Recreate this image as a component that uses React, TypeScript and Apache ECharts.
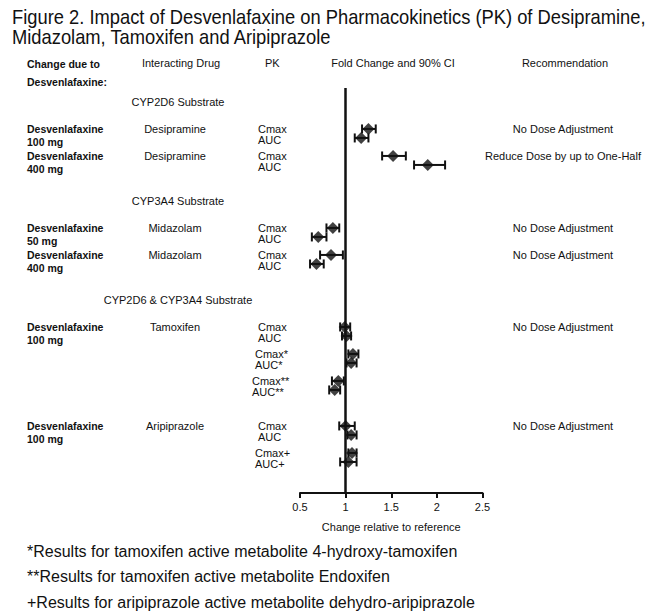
import React, { useEffect, useRef } from "react";
import * as echarts from "echarts";

// ---- data ----
const rowIndex = [0, 1, 3, 4, 11, 12, 14, 15, 22, 23, 25, 26, 28, 29, 33, 34, 36, 37];
const pkLabels = ["Cmax", "AUC", "Cmax", "AUC", "Cmax", "AUC", "Cmax", "AUC", "Cmax", "AUC", "Cmax*", "AUC*", "Cmax**", "AUC**", "Cmax", "AUC", "Cmax+", "AUC+"];
const foldChange = [1.25, 1.17, 1.52, 1.9, 0.86, 0.7, 0.84, 0.68, 0.99, 1.01, 1.08, 1.06, 0.92, 0.88, 1.0, 1.06, 1.07, 1.03];
const ciLow = [1.18, 1.1, 1.4, 1.75, 0.79, 0.63, 0.72, 0.61, 0.94, 0.96, 1.03, 1.01, 0.85, 0.82, 0.93, 1.02, 1.03, 0.94];
const ciHigh = [1.33, 1.25, 1.66, 2.09, 0.93, 0.79, 0.97, 0.76, 1.05, 1.06, 1.14, 1.12, 0.98, 0.94, 1.1, 1.12, 1.12, 1.12];

const studyRows = [0, 3, 11, 14, 22, 33];
const studyDose = ["100 mg", "400 mg", "50 mg", "400 mg", "100 mg", "100 mg"];
const studyDrug = ["Desipramine", "Desipramine", "Midazolam", "Midazolam", "Tamoxifen", "Aripiprazole"];
const recommendation = ["No Dose Adjustment", "Reduce Dose by up to One-Half", "No Dose Adjustment", "No Dose Adjustment", "No Dose Adjustment", "No Dose Adjustment"];

const substrateRows = [-3, 8, 19];
const substrateLabels = ["CYP2D6 Substrate", "CYP3A4 Substrate", "CYP2D6 & CYP3A4 Substrate"];

const xTicks = { min: 0.5, max: 2.5, interval: 0.5 };
const footnotes = [
  "*Results for tamoxifen active metabolite 4-hydroxy-tamoxifen",
  "**Results for tamoxifen active metabolite Endoxifen",
  "+Results for aripiprazole active metabolite dehydro-aripiprazole",
];
const titleLines = [
  "Figure 2. Impact of Desvenlafaxine on Pharmacokinetics (PK) of Desipramine,",
  "Midazolam, Tamoxifen and Aripiprazole",
];

const FONT = '"Liberation Sans", Arial, sans-serif';
const INK = "#111";

export default function App() {
  const ref = useRef<HTMLDivElement>(null);
  useEffect(() => {
    document.body.style.margin = "0";
    const chart = echarts.init(ref.current!, null, { renderer: "svg" });
    const option: any = {
      animation: false,
      backgroundColor: "#fff",
      grid: { left: 300, right: 178.5, top: 88, bottom: 122 },
      xAxis: {
        type: "value",
        min: xTicks.min,
        max: xTicks.max,
        interval: xTicks.interval,
        name: "Change relative to reference",
        nameLocation: "middle",
        nameGap: 28,
        nameTextStyle: { fontFamily: FONT, fontSize: 11, color: INK },
        axisLine: { show: true, onZero: false, lineStyle: { color: INK, width: 2 } },
        axisTick: { show: true, length: 5, lineStyle: { color: INK, width: 2 } },
        axisLabel: { fontFamily: FONT, fontSize: 11, color: INK, margin: 8 },
        splitLine: { show: false },
      },
      yAxis: { type: "value", inverse: true, min: -4.55, max: 40.45, show: false },
      series: [
        {
          type: "custom",
          data: rowIndex.map((r, i) => [ciLow[i], ciHigh[i], r]),
          encode: { x: [0, 1], y: 2 },
          renderItem: (params: any, api: any) => {
            const lo = api.coord([api.value(0), api.value(2)]);
            const hi = api.coord([api.value(1), api.value(2)]);
            const h = 4.5;
            const st = { stroke: INK, lineWidth: 2 };
            return {
              type: "group",
              children: [
                { type: "line", shape: { x1: lo[0], y1: lo[1], x2: hi[0], y2: hi[1] }, style: st },
                { type: "line", shape: { x1: lo[0], y1: lo[1] - h, x2: lo[0], y2: lo[1] + h }, style: st },
                { type: "line", shape: { x1: hi[0], y1: hi[1] - h, x2: hi[0], y2: hi[1] + h }, style: st },
              ],
            };
          },
          z: 2,
        },
        {
          type: "scatter",
          data: rowIndex.map((r, i) => [foldChange[i], r]),
          symbol: "diamond",
          symbolSize: [12, 12],
          itemStyle: { color: INK },
          z: 3,
          markLine: {
            silent: true,
            symbol: ["none", "none"],
            label: { show: false },
            lineStyle: { color: INK, width: 2.5, type: "solid" },
            data: [{ xAxis: 1 }],
          },
        },
      ],
    };
    chart.setOption(option);

    const py = (row: number) => chart.convertToPixel({ gridIndex: 0 } as any, [1, row])[1];
    const txt = (x: number, y: number, text: string, extra: any = {}, el: any = {}) => ({
      type: "text",
      x,
      y,
      ...el,
      style: {
        text,
        fontFamily: FONT,
        fontSize: 11,
        fill: INK,
        textVerticalAlign: "middle",
        textAlign: "left",
        ...extra,
      },
    });
    const g: any[] = [];
    // title
    titleLines.forEach((t, i) =>
      g.push(txt(12, 17 + i * 20.5, t, { fontSize: 20 }, { scaleX: 0.917 }))
    );
    // header
    g.push(txt(27, 64, "Change due to", { fontWeight: "bold", fontSize: 10.5 }));
    g.push(txt(27, 82, "Desvenlafaxine:", { fontWeight: "bold", fontSize: 10.5 }));
    g.push(txt(181, 63, "Interacting Drug", { textAlign: "center" }));
    g.push(txt(265, 63, "PK"));
    g.push(txt(393, 63, "Fold Change and 90% CI", { textAlign: "center" }));
    g.push(txt(565, 63, "Recommendation", { textAlign: "center" }));
    substrateRows.forEach((r, i) => g.push(txt(178, py(r), substrateLabels[i], { textAlign: "center" })));
    studyRows.forEach((r, i) => {
      const y = py(r);
      g.push(txt(27, y, "Desvenlafaxine", { fontWeight: "bold", fontSize: 10.5 }));
      g.push(txt(27, y + 13.5, studyDose[i], { fontWeight: "bold", fontSize: 10.5 }));
      g.push(txt(175, y, studyDrug[i], { textAlign: "center" }));
      g.push(txt(563, y, recommendation[i], { textAlign: "center" }));
    });
    rowIndex.forEach((r, i) => {
      const lab = pkLabels[i];
      const suffix = lab.replace(/^(Cmax|AUC)/, "");
      const x = 258 - 3 * suffix.length;
      const y = py(r) + (lab.startsWith("AUC") ? 2 : 0);
      g.push(txt(x, y, lab));
    });
    footnotes.forEach((f, i) => g.push(txt(27, 551 + i * 25.5, f, { fontSize: 16 })));
    chart.setOption({ graphic: g });

    return () => chart.dispose();
  }, []);
  return <div ref={ref} style={{ position: "absolute", left: 0, top: 0, width: 661, height: 615 }} />;
}
